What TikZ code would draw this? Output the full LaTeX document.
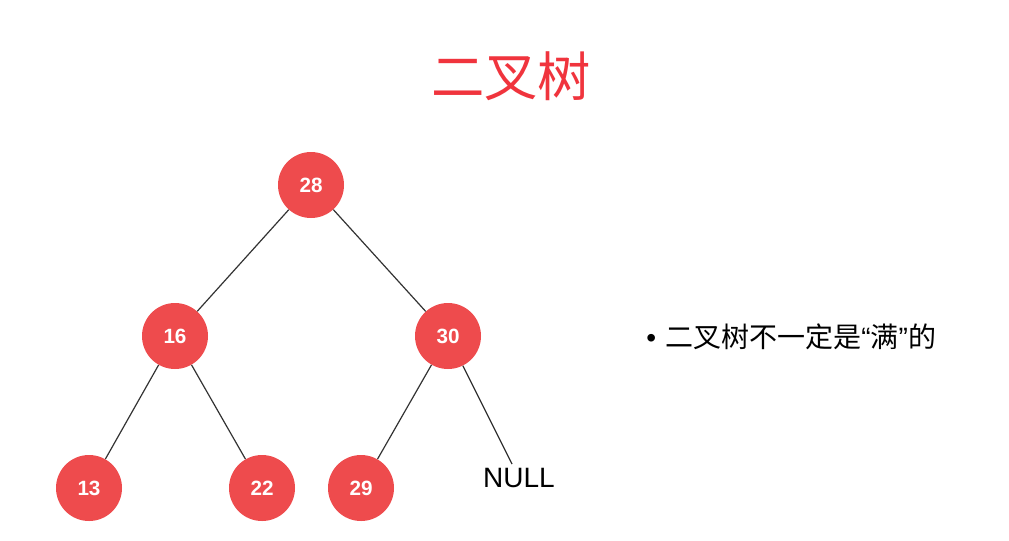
\documentclass[tikz,border=0pt]{standalone}
\usepackage{fontspec}
\setmainfont{Liberation Sans}
\newfontfamily\cjk{Noto Sans CJK SC}
\newfontfamily\latin{Liberation Sans}
\definecolor{nodered}{HTML}{EE4B4D}
\definecolor{titlered}{HTML}{F0343D}
\definecolor{edgegray}{HTML}{333333}
\begin{document}
\begin{tikzpicture}[x=0.75pt,y=-0.75pt,
  treenode/.style={circle,fill=nodered,minimum size=49.5pt,inner sep=0pt,
    text=white,font=\fontsize{15.5pt}{15.5pt}\selectfont\bfseries},
  edge/.style={draw=edgegray,line width=0.9pt},
  nulltext/.style={inner sep=0pt,font=\fontsize{21pt}{21pt}\selectfont}]
  \useasboundingbox[fill=white] (0,0) rectangle (1009,540);

  % title
  \node[text=titlered,font=\cjk\fontsize{40pt}{40pt}\selectfont] (title) at (511,76) {二叉树};

  % tree nodes
  \node[treenode] (n28) at (311,185) {28};
  \node[treenode] (n16) at (175,336) {16};
  \node[treenode] (n30) at (448,336) {30};
  \node[treenode] (n13) at (89,488) {13};
  \node[treenode] (n22) at (262,488) {22};
  \node[treenode] (n29) at (361,488) {29};
  \node[nulltext] (null) at (519,478) {NULL};
  \coordinate (nulltop) at (512,464);

  % edges
  \draw[edge] (n28) -- (n16);
  \draw[edge] (n28) -- (n30);
  \draw[edge] (n16) -- (n13);
  \draw[edge] (n16) -- (n22);
  \draw[edge] (n30) -- (n29);
  \draw[edge] (n30) -- (nulltop);

  % bullet note
  \node[anchor=west,inner sep=0pt,font=\fontsize{21pt}{21pt}\selectfont] (note) at (646,337)
    {\latin •\hspace{7pt}\cjk 二叉树不一定是{\latin “}满{\latin ”}的};
\end{tikzpicture}
\end{document}
